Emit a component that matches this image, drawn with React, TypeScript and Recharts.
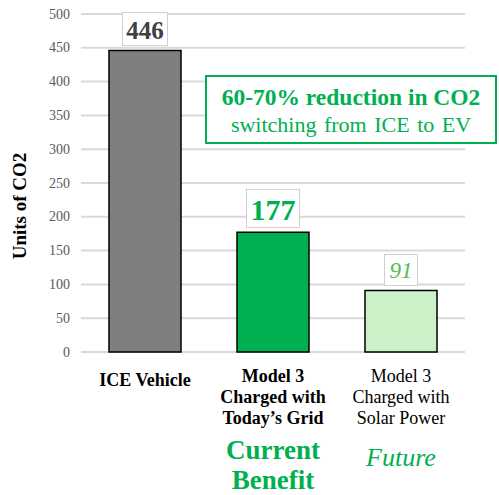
import React from 'react';
import { BarChart, Bar, XAxis, YAxis, CartesianGrid, Cell, LabelList } from 'recharts';

const categories = ['ICE Vehicle', 'Model 3 Charged with Today\u2019s Grid', 'Model 3 Charged with Solar Power'];
const categoryLines = [['ICE Vehicle'], ['Model 3', 'Charged with', 'Today\u2019s Grid'], ['Model 3', 'Charged with', 'Solar Power']];
const values = [446, 177, 91];
const yTicks = [0, 50, 100, 150, 200, 250, 300, 350, 400, 450, 500];
const barColors = ['#7F7F7F', '#00B050', '#CCF0C8'];
const subCaptions = [[], ['Current', 'Benefit'], ['Future']];
const yTitle = 'Units of CO2';

const data = categories.map((c, i) => ({ name: c, value: values[i], idx: i }));

const FONT = '"Liberation Serif", "Times New Roman", serif';

const XTick = (props: any) => {
  const { x, y, payload } = props;
  const i = payload.index;
  const lines = categoryLines[i];
  const bold = i < 2;
  const top = i === 0 ? 380 - y : 376 - y;
  return (
    <g transform={`translate(${x},${y})`}>
      {lines.map((l, k) => (
        <text key={k} x={0} y={top + k * 21} textAnchor="middle" dominantBaseline="central"
          fontFamily={FONT} fontSize={18} fontWeight={bold ? 'bold' : 'normal'} fill="#000">{l}</text>
      ))}
      {subCaptions[i].map((l, k) => (
        <text key={'s' + k} x={0} y={(i === 1 ? 450 : 457) - y + k * 30} textAnchor="middle" dominantBaseline="central"
          fontFamily={FONT} fontSize={i === 1 ? 27 : 26} fontWeight={i === 1 ? 'bold' : 'normal'}
          fontStyle={i === 2 ? 'italic' : 'normal'} fill="#00B050">{l}</text>
      ))}
    </g>
  );
};

const YTick = (props: any) => {
  const { y, payload } = props;
  return (
    <text x={70} y={y} textAnchor="end" dominantBaseline="central" fontFamily={FONT} fontSize={14} fill="#595959">
      {payload.value}
    </text>
  );
};

const YTitle = () => (
  <text x={19} y={206} transform="rotate(-90, 19, 206)" textAnchor="middle" dominantBaseline="central"
    fontFamily={FONT} fontSize={19} fontWeight="bold" fill="#000">{yTitle}</text>
);

const labelStyles = [
  { w: 45, h: 33, size: 25, color: '#404040', weight: 'bold', style: 'normal', gap: 5 },
  { w: 53, h: 38, size: 30, color: '#00B050', weight: 'bold', style: 'normal', gap: 5 },
  { w: 33, h: 31, size: 23, color: '#4EBE4E', weight: 'normal', style: 'italic', gap: 5 },
];

const ValueLabel = (props: any) => {
  const { x, y, width, value, index } = props;
  const s = labelStyles[index];
  const cx = x + width / 2;
  const bottom = y - s.gap;
  return (
    <g>
      <rect x={cx - s.w / 2} y={bottom - s.h} width={s.w} height={s.h} fill="#fff" stroke="#D0D0D0" strokeWidth={1} />
      <text x={cx} y={bottom - s.h / 2 + 1} textAnchor="middle" dominantBaseline="central" fontFamily={FONT}
        fontSize={s.size} fontWeight={s.weight} fontStyle={s.style} fill={s.color}>{value}</text>
    </g>
  );
};

export default function App() {
  return (
    <div style={{ position: 'absolute', left: 0, top: 0, width: 499, height: 495, background: '#fff', overflow: 'hidden' }}>
      <BarChart width={499} height={495} data={data} margin={{ top: 14, right: 34, bottom: 0, left: 0 }} barSize={72}>
        <CartesianGrid vertical={false} stroke="#D9D9D9" strokeWidth={2} />
        <XAxis dataKey="name" axisLine={false} tickLine={false} tick={<XTick />} interval={0} height={143} />
        <YAxis domain={[0, 500]} ticks={yTicks} axisLine={false} tickLine={false} width={81}
          tick={<YTick />} label={<YTitle />} />
        <Bar dataKey="value" stroke="#000" strokeWidth={1.5} isAnimationActive={false}>
          {data.map((d, i) => <Cell key={i} fill={barColors[i]} />)}
          <LabelList dataKey="value" content={<ValueLabel />} />
        </Bar>
      </BarChart>
      <div style={{ position: 'absolute', left: 205, top: 75, width: 292, height: 69, border: '2px solid #00B050',
        background: '#fff', fontFamily: FONT, color: '#00B050', textAlign: 'center', boxSizing: 'border-box' }}>
        <div style={{ fontSize: 23.5, fontWeight: 'bold', lineHeight: '28px', marginTop: 6, whiteSpace: 'nowrap' }}>60-70% reduction in CO2</div>
        <div style={{ fontSize: 22, lineHeight: '28px', wordSpacing: 2, whiteSpace: 'nowrap' }}>switching from ICE to EV</div>
      </div>
    </div>
  );
}
